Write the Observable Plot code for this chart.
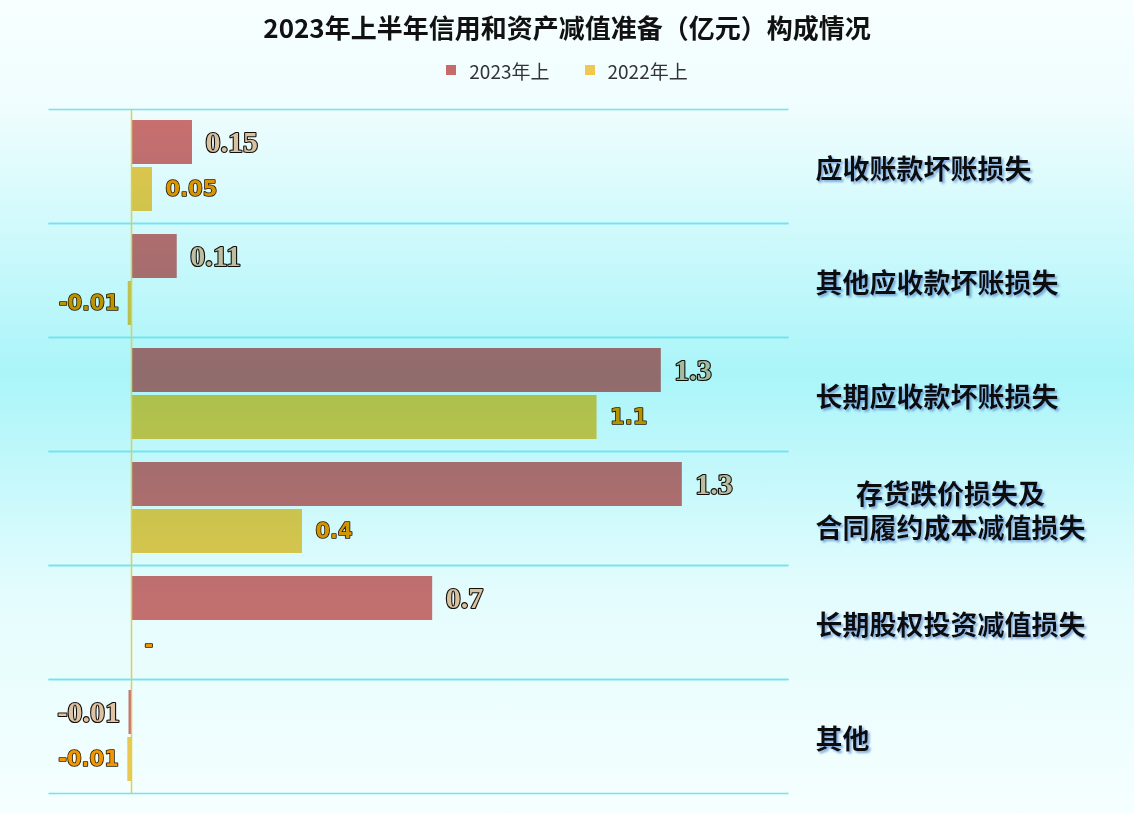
<!DOCTYPE html>
<html>
<head>
<meta charset="utf-8">
<script src="https://cdn.jsdelivr.net/npm/d3@7"></script>
<script src="https://cdn.jsdelivr.net/npm/@observablehq/plot@0.6"></script>
<style>
html, body { margin: 0; padding: 0; width: 1134px; height: 813px; overflow: hidden; }
body {
  background: linear-gradient(to bottom, #f7ffff 0%, #f0fdfe 13%, #aaf5f9 46%, #e4fcfd 73%, #f5ffff 100%);
  font-family: "Noto Sans CJK SC", sans-serif;
}
#title { height: 54px; line-height: 54px; text-align: center; font-size: 26px; font-weight: 700; color: #111; }
#legend { height: 32px; display: flex; justify-content: center; align-items: center; gap: 35px; font-size: 19px; color: #333; }
.item { display: flex; align-items: center; }
.sw { width: 10px; height: 10px; margin-right: 13px; }
#chart svg { display: block; }
</style>
</head>
<body>
<div id="title"></div>
<div id="legend"></div>
<div id="chart"></div>
<script>
const titleText = "2023年上半年信用和资产减值准备（亿元）构成情况";
const categories = [
  "应收账款坏账损失",
  "其他应收款坏账损失",
  "长期应收款坏账损失",
  "存货跌价损失及\n合同履约成本减值损失",
  "长期股权投资减值损失",
  "其他"
];
const series = ["2023年上", "2022年上"];
const values2023 = [0.148, 0.111, 1.286, 1.337, 0.731, -0.006];
const values2022 = [0.051, -0.008, 1.130, 0.415, 0, -0.009];
const labels2023 = ["0.15", "0.11", "1.3", "1.3", "0.7", "-0.01"];
const labels2022 = ["0.05", "-0.01", "1.1", "0.4", "-", "-0.01"];
const barColors = ["#d87070", "#fac84e"];
const swatchColors = ["#c96a6a", "#f0c850"];

document.getElementById("title").textContent = titleText;
const legend = document.getElementById("legend");
series.forEach((s, i) => {
  const item = document.createElement("div");
  item.className = "item";
  const sw = document.createElement("span");
  sw.className = "sw";
  sw.style.background = swatchColors[i];
  const t = document.createElement("span");
  t.textContent = s;
  item.appendChild(sw);
  item.appendChild(t);
  legend.appendChild(item);
});

const rows = [];
categories.forEach((c, i) => {
  rows.push({category: c, series: series[0], value: values2023[i], label: labels2023[i]});
  rows.push({category: c, series: series[1], value: values2022[i], label: labels2022[i]});
});

const single = categories.filter(c => !c.includes("\n"));
const multi = categories.filter(c => c.includes("\n"));

const font23 = {fontFamily: "Liberation Serif", fontWeight: "bold", fontSize: 30, fill: "#f0c4a2", stroke: "#140e0a", strokeWidth: 2.2, paintOrder: "stroke", mixBlendMode: "multiply"};
const font22 = {fontFamily: "DejaVu Sans", fontWeight: "bold", fontSize: 21, fill: "#ff9800", stroke: "#241400", strokeWidth: 1.6, paintOrder: "stroke", mixBlendMode: "multiply"};

function valueLabels(s, font) {
  const data = rows.filter(d => d.series === s);
  return [
    Plot.text(data.filter(d => d.value >= 0), {fy: "category", y: "series", x: "value", text: "label", textAnchor: "start", dx: 13, ...font}),
    Plot.text(data.filter(d => d.value < 0), {fy: "category", y: "series", x: "value", text: "label", textAnchor: "end", dx: -9, ...font})
  ];
}

const catBase = {fy: d => d, text: d => d, x: null, y: null, frameAnchor: "right", fontFamily: "Noto Sans CJK SC", fontWeight: "bold", fontSize: 27, lineHeight: 1.24, fill: "#111"};

const chart = Plot.plot({
  width: 1134,
  height: 727,
  marginTop: 23,
  marginBottom: 20,
  marginLeft: 48,
  marginRight: 346,
  style: {background: "transparent", overflow: "visible"},
  x: {domain: [-0.2015, 1.5947], axis: null},
  y: {domain: series, paddingInner: 0.0625, paddingOuter: 0.219, axis: null},
  fy: {domain: categories, padding: 0, axis: null},
  color: {domain: series, range: barColors},
  marks: [
    Plot.frame({stroke: "#70e4f0", strokeWidth: 1.6, strokeDasharray: "740 114"}),
    Plot.barX(rows, {fy: "category", y: "series", x: "value", fill: "series", mixBlendMode: "multiply"}),
    Plot.ruleX([0], {stroke: "#d8d058", strokeWidth: 1.5}),
    ...valueLabels(series[0], font23),
    ...valueLabels(series[1], font22),
    Plot.text(single, {...catBase, textAnchor: "start", dx: 27, dy: 2}),
    Plot.text(multi, {...catBase, textAnchor: "middle", dx: 162, dy: 2})
  ]
});

// soft bluish drop shadow behind the category labels (style only)
const ns = "http://www.w3.org/2000/svg";
const defs = document.createElementNS(ns, "defs");
const filter = document.createElementNS(ns, "filter");
filter.setAttribute("id", "catShadow");
filter.setAttribute("x", "-10%"); filter.setAttribute("y", "-30%");
filter.setAttribute("width", "130%"); filter.setAttribute("height", "160%");
const ds = document.createElementNS(ns, "feDropShadow");
ds.setAttribute("dx", "2"); ds.setAttribute("dy", "2"); ds.setAttribute("stdDeviation", "0.8");
ds.setAttribute("flood-color", "#5f8fd0"); ds.setAttribute("flood-opacity", "0.75");
filter.appendChild(ds);
defs.appendChild(filter);
chart.insertBefore(defs, chart.firstChild);
const catTexts = new Set(categories.map(c => c.replace("\n", "")));
chart.querySelectorAll("text").forEach(t => {
  if (catTexts.has(t.textContent.replace(/\s/g, ""))) t.setAttribute("filter", "url(#catShadow)");
});

document.getElementById("chart").appendChild(chart);
</script>
</body>
</html>
